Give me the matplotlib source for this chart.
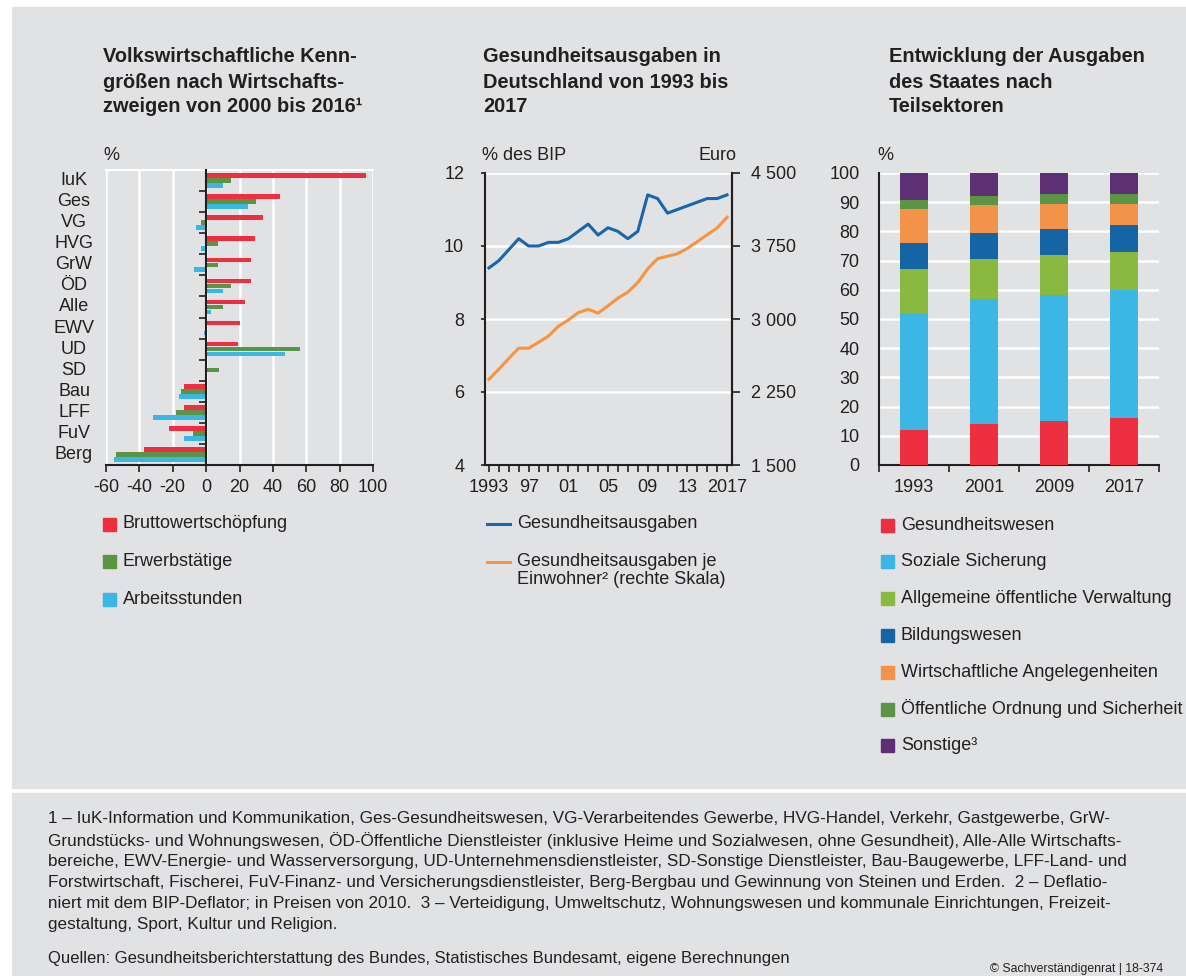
import matplotlib
matplotlib.use("Agg")
import matplotlib.pyplot as plt
import matplotlib.transforms as mtransforms
from matplotlib.patches import Rectangle
from matplotlib.lines import Line2D
import numpy as np

plt.rcParams['font.family'] = ['Liberation Sans', 'DejaVu Sans']
plt.rcParams['axes.unicode_minus'] = False

W, H = 1186, 976

# --- left panel: change 2000-2016 by sector, in % ---
sectors = ['IuK', 'Ges', 'VG', 'HVG', 'GrW', 'ÖD', 'Alle', 'EWV', 'UD', 'SD',
           'Bau', 'LFF', 'FuV', 'Berg']
bruttowertschoepfung = [96, 44, 34, 29, 27, 27, 23, 20, 19, 0, -13, -13, -22, -37]
erwerbstaetige = [15, 30, -3, 7, 7, 15, 10, 0, 56, 8, -15, -18, -8, -54]
arbeitsstunden = [10, 25, -6, -3, -7, 10, 3, -1, 47, -0.5, -16, -32, -13, -55]

# --- middle panel: health expenditure 1993-2017 ---
years = list(range(1993, 2018))
anteil_bip = [9.4, 9.6, 9.9, 10.2, 10.0, 10.0, 10.1, 10.1, 10.2, 10.4, 10.6, 10.3,
              10.5, 10.4, 10.2, 10.4, 11.4, 11.3, 10.9, 11.0, 11.1, 11.2, 11.3,
              11.3, 11.4]
je_einwohner = [2380, 2485, 2595, 2700, 2700, 2760, 2825, 2925, 2990, 3065, 3100,
                3060, 3135, 3215, 3275, 3375, 3515, 3620, 3645, 3670, 3725, 3795,
                3865, 3935, 4045]
year_ticks = [1993, 1997, 2001, 2005, 2009, 2013, 2017]
year_labels = ['1993', '97', '01', '05', '09', '13', '2017']

# --- right panel: government expenditure by function, in % ---
stichjahre = ['1993', '2001', '2009', '2017']
gesundheitswesen = [12.0, 13.9, 14.9, 16.2]
soziale_sicherung = [40.0, 43.0, 43.3, 43.9]
allg_verwaltung = [15.1, 13.8, 13.7, 12.9]
bildungswesen = [9.0, 8.7, 9.0, 9.3]
wirtschaft = [11.6, 9.5, 8.6, 7.1]
ordnung_sicherheit = [3.2, 3.3, 3.4, 3.5]
sonstige = [9.1, 7.8, 7.1, 7.1]

BG = '#e1e2e4'
DARK = '#231f20'
RED = '#ee2f42'
GREEN = '#5a9444'
LBLUE = '#3bb7e5'
DBLUE = '#1565a4'
ORANGE = '#f5924a'
LGREEN = '#89b941'
PURPLE = '#5d2f74'
LINE_BLUE = '#1a66a8'
LINE_ORANGE = '#f7943f'

FS = 13


def rect(x0, y0, x1, y1):
    return [x0 / W, 1 - y1 / H, (x1 - x0) / W, (y1 - y0) / H]


def ftext(x, y, s, **kw):
    kw.setdefault('va', 'center')
    kw.setdefault('color', DARK)
    return fig.text(x / W, 1 - y / H, s, **kw)


fig = plt.figure(figsize=(W / 100, H / 100), dpi=100, facecolor='white')

# grey panels
fig.patches.append(Rectangle((12 / W, 1 - 788 / H), 1 - 12 / W, (788 - 7) / H,
                             transform=fig.transFigure, color=BG, zorder=-10))
fig.patches.append(Rectangle((12 / W, 0), 1 - 12 / W, (976 - 793) / H,
                             transform=fig.transFigure, color=BG, zorder=-10))

# titles
titles = [
    (103, ['Volkswirtschaftliche Kenn-', 'größen nach Wirtschafts-',
           'zweigen von 2000 bis 2016¹']),
    (483, ['Gesundheitsausgaben in', 'Deutschland von 1993 bis', '2017']),
    (889, ['Entwicklung der Ausgaben', 'des Staates nach', 'Teilsektoren']),
]
for x, lines in titles:
    for i, line in enumerate(lines):
        ftext(x, 57 + i * 25, line, fontsize=14.4, fontweight='bold')


def style_spines(ax):
    for s in ax.spines.values():
        s.set_color(DARK)
        s.set_linewidth(1.5)
    ax.set_facecolor('none')
    ax.tick_params(colors=DARK, labelsize=FS, width=1.2)


# ---------------- left panel ----------------
ax1 = fig.add_axes(rect(106, 170, 373, 465))
style_spines(ax1)
pos = np.arange(len(sectors))
bh = 0.22
ax1.barh(pos - 0.235, bruttowertschoepfung, height=bh, color=RED, zorder=3)
ax1.barh(pos, erwerbstaetige, height=bh, color=GREEN, zorder=3)
ax1.barh(pos + 0.235, arbeitsstunden, height=bh, color=LBLUE, zorder=3)
ax1.set_xlim(-60, 100)
ax1.set_ylim(13.5, -0.5)
ax1.set_xticks(range(-60, 101, 20))
ax1.set_yticks(np.arange(-0.5, 14, 1))
ax1.set_yticklabels([])
ax1.spines['left'].set_position(('data', 0))
ax1.spines['left'].set_zorder(4)
ax1.spines['right'].set_visible(False)
ax1.spines['top'].set_color('white')
ax1.grid(axis='x', color='white', linewidth=1.8, zorder=0)
ax1.set_axisbelow(True)
ax1.tick_params(axis='y', length=5, direction='out')
ax1.tick_params(axis='x', length=5, direction='out', pad=5)
lab_tf = mtransforms.blended_transform_factory(fig.transFigure, ax1.transData)
for p, name in zip(pos, sectors):
    ax1.text(74 / W, p, name, transform=lab_tf, ha='center', va='center',
             fontsize=FS, color=DARK)
ftext(103, 155, '%', fontsize=FS)

# ---------------- middle panel ----------------
ax2 = fig.add_axes(rect(485, 173, 732, 465))
style_spines(ax2)
ax2.plot(years, anteil_bip, color=LINE_BLUE, linewidth=2.2, zorder=3)
ax2.set_xlim(1992.6, 2017.5)
ax2.set_ylim(4, 12)
ax2.set_yticks(range(4, 13, 2))
ax2.set_xticks(year_ticks)
ax2.set_xticklabels(year_labels)
ax2.set_xticks(years, minor=True)
ax2.spines['top'].set_visible(False)
ax2.grid(axis='y', color='white', linewidth=1.8, zorder=0)
ax2.set_axisbelow(True)
ax2.tick_params(axis='y', length=3, pad=12)
ax2.tick_params(axis='x', which='both', length=5, width=1.2, color=DARK, pad=5)

ax2r = ax2.twinx()
style_spines(ax2r)
ax2r.plot(years, je_einwohner, color=LINE_ORANGE, linewidth=2.2, zorder=3)
ax2r.set_ylim(1500, 4500)
euro_ticks = [1500, 2250, 3000, 3750, 4500]
ax2r.set_yticks(euro_ticks)
ax2r.set_yticklabels([f'{v:,}'.replace(',', ' ') for v in euro_ticks])
ax2r.spines['top'].set_visible(False)
ax2r.spines['left'].set_visible(False)
ax2r.spines['bottom'].set_visible(False)
ax2r.tick_params(axis='y', length=6, pad=8)
ftext(482, 155, '% des BIP', fontsize=FS)
ftext(736, 155, 'Euro', fontsize=FS, ha='right')

# ---------------- right panel ----------------
ax3 = fig.add_axes(rect(879, 173, 1159, 465))
style_spines(ax3)
stack = [gesundheitswesen, soziale_sicherung, allg_verwaltung, bildungswesen,
         wirtschaft, ordnung_sicherheit, sonstige]
stack_colors = [RED, LBLUE, LGREEN, DBLUE, ORANGE, GREEN, PURPLE]
xpos = np.arange(len(stichjahre))
bottom = np.zeros(len(stichjahre))
for vals, c in zip(stack, stack_colors):
    ax3.bar(xpos, vals, bottom=bottom, width=0.4, color=c, zorder=3)
    bottom += np.array(vals)
ax3.set_xlim(-0.5, 3.5)
ax3.set_ylim(0, 100)
ax3.set_yticks(range(0, 101, 10))
ax3.set_xticks(xpos)
ax3.set_xticklabels(stichjahre)
ax3.set_xticks(np.arange(-0.5, 4, 1), minor=True)
ax3.spines['top'].set_visible(False)
ax3.spines['right'].set_visible(False)
ax3.grid(axis='y', color='white', linewidth=1.8, zorder=0)
ax3.set_axisbelow(True)
ax3.tick_params(axis='y', length=0, pad=14)
ax3.tick_params(axis='x', which='major', length=0, pad=10)
ax3.tick_params(axis='x', which='minor', length=5, width=1.2, color=DARK)
ftext(877, 155, '%', fontsize=FS)

# ---------------- legends ----------------
def square(x, y, c, size=13):
    fig.patches.append(Rectangle((x / W, 1 - (y + size / 2) / H), size / W, size / H,
                                 transform=fig.transFigure, color=c))


left_items = [('Bruttowertschöpfung', RED), ('Erwerbstätige', GREEN),
              ('Arbeitsstunden', LBLUE)]
for i, (name, c) in enumerate(left_items):
    y = 524 + i * 37.5
    square(103, y, c)
    ftext(123, y, name, fontsize=FS)

for y, c in [(524, LINE_BLUE), (562, LINE_ORANGE)]:
    fig.lines.append(Line2D([487 / W, 510 / W], [1 - y / H, 1 - y / H],
                            transform=fig.transFigure, color=c, linewidth=2.2))
ftext(517, 524, 'Gesundheitsausgaben', fontsize=FS)
ftext(517, 562, 'Gesundheitsausgaben je', fontsize=FS)
ftext(517, 580, 'Einwohner² (rechte Skala)', fontsize=FS)

right_items = ['Gesundheitswesen', 'Soziale Sicherung',
               'Allgemeine öffentliche Verwaltung', 'Bildungswesen',
               'Wirtschaftliche Angelegenheiten',
               'Öffentliche Ordnung und Sicherheit', 'Sonstige³']
for i, (name, c) in enumerate(zip(right_items, stack_colors)):
    y = 525 + i * 36.8
    square(881, y, c)
    ftext(901, y, name, fontsize=FS)

# ---------------- footnotes ----------------
notes = [
    '1 – IuK-Information und Kommunikation, Ges-Gesundheitswesen, VG-Verarbeitendes Gewerbe, HVG-Handel, Verkehr, Gastgewerbe, GrW-',
    'Grundstücks- und Wohnungswesen, ÖD-Öffentliche Dienstleister (inklusive Heime und Sozialwesen, ohne Gesundheit), Alle-Alle Wirtschafts-',
    'bereiche, EWV-Energie- und Wasserversorgung, UD-Unternehmensdienstleister, SD-Sonstige Dienstleister, Bau-Baugewerbe, LFF-Land- und',
    'Forstwirtschaft, Fischerei, FuV-Finanz- und Versicherungsdienstleister, Berg-Bergbau und Gewinnung von Steinen und Erden.  2 – Deflatio-',
    'niert mit dem BIP-Deflator; in Preisen von 2010.  3 – Verteidigung, Umweltschutz, Wohnungswesen und kommunale Einrichtungen, Freizeit-',
    'gestaltung, Sport, Kultur und Religion.',
]
for i, line in enumerate(notes):
    ftext(48, 819 + i * 21.2, line, fontsize=12.3)
ftext(48, 959, 'Quellen: Gesundheitsberichterstattung des Bundes, Statistisches Bundesamt, eigene Berechnungen',
      fontsize=12.0)
ftext(990, 969, '© Sachverständigenrat | 18-374', fontsize=8.8)

fig.savefig('out.png', dpi=100, facecolor='white')
